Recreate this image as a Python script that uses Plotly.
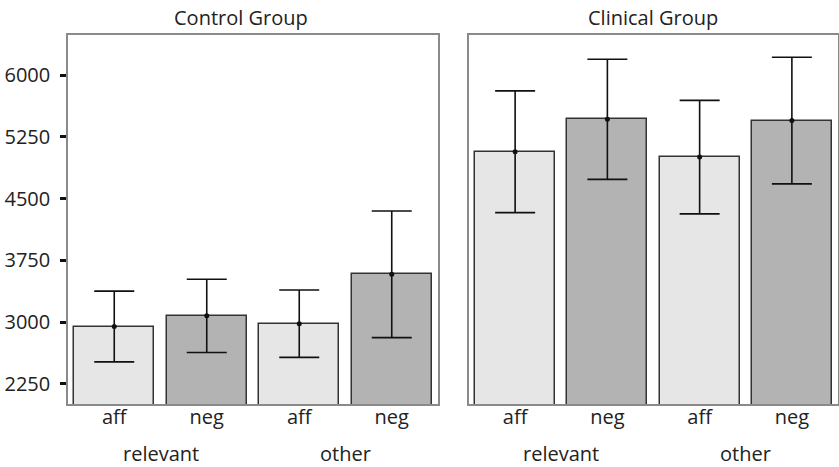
import plotly.graph_objects as go

# ---- data ----
conditions = ["aff", "neg", "aff", "neg"]
groups = ["relevant", "other"]
panel_titles = ["Control Group", "Clinical Group"]
control_means = [2945, 3075, 2980, 3580]
control_err = [430, 445, 410, 770]
clinical_means = [5070, 5465, 5005, 5450]
clinical_err = [740, 730, 690, 770]
y_ticks = [2250, 3000, 3750, 4500, 5250, 6000]

W, H = 839, 467
FONT = "Open Sans"
LIGHT = "#e6e6e6"
DARK = "#b3b3b3"
colors = [LIGHT, DARK, LIGHT, DARK]
xs = [0, 1, 2, 3]

fig = go.Figure()
for i, (means, errs) in enumerate([(control_means, control_err), (clinical_means, clinical_err)]):
    xa = "x" if i == 0 else "x2"
    ya = "y" if i == 0 else "y2"
    fig.add_trace(go.Bar(
        x=xs, y=means, width=0.865,
        marker=dict(color=colors, line=dict(color="#333333", width=1.5)),
        error_y=dict(type="data", array=errs, visible=True, color="#111111",
                     thickness=1.6, width=20),
        xaxis=xa, yaxis=ya, showlegend=False, hoverinfo="y",
    ))
    fig.add_trace(go.Scatter(
        x=xs, y=means, mode="markers",
        marker=dict(color="#111111", size=5),
        xaxis=xa, yaxis=ya, showlegend=False, hoverinfo="skip",
    ))

def px_x(p):
    return p / W

def px_y(p):
    return 1 - p / H

yrange = [2003, 6490]
frame = dict(showline=True, linecolor="#8a8a8a", linewidth=1.5, mirror=True,
             showgrid=False, zeroline=False)

fig.update_layout(
    width=W, height=H,
    margin=dict(l=0, r=0, t=0, b=0),
    paper_bgcolor="white", plot_bgcolor="white",
    font=dict(family=FONT, size=18, color="#222222"),
    bargap=0,
    xaxis=dict(domain=[px_x(68), px_x(438)], range=[-0.5, 3.5],
               tickvals=xs, ticktext=conditions, ticks="",
               tickfont=dict(size=20), ticklabelstandoff=-6, **frame),
    xaxis2=dict(domain=[px_x(469), px_x(838)], range=[-0.5, 3.5],
                tickvals=xs, ticktext=conditions, ticks="",
                tickfont=dict(size=20), ticklabelstandoff=-6, **frame),
    yaxis=dict(domain=[px_y(404), px_y(35)], range=yrange,
               tickvals=y_ticks, ticks="outside", ticklen=6, tickwidth=3,
               tickcolor="#111111", tickfont=dict(size=20),
               ticklabelstandoff=6, **frame),
    yaxis2=dict(domain=[px_y(404), px_y(35)], range=yrange,
                anchor="x2", showticklabels=False, ticks="", **frame),
)

# group labels
for ax in ["x", "x2"]:
    for g, xc in zip(groups, [0.5, 2.5]):
        fig.add_annotation(x=xc, y=px_y(453), xref=ax, yref="paper",
                           text=g, showarrow=False, font=dict(size=20),
                           xanchor="center", yanchor="middle")

# panel titles
for t, xc in zip(panel_titles, [241, 653]):
    fig.add_annotation(x=px_x(xc), y=px_y(17), xref="paper", yref="paper",
                       text=t, showarrow=False, font=dict(size=20),
                       xanchor="center", yanchor="middle")

fig.write_html("out.html", config={"displayModeBar": False},
               post_script="document.body.style.margin='0';")
